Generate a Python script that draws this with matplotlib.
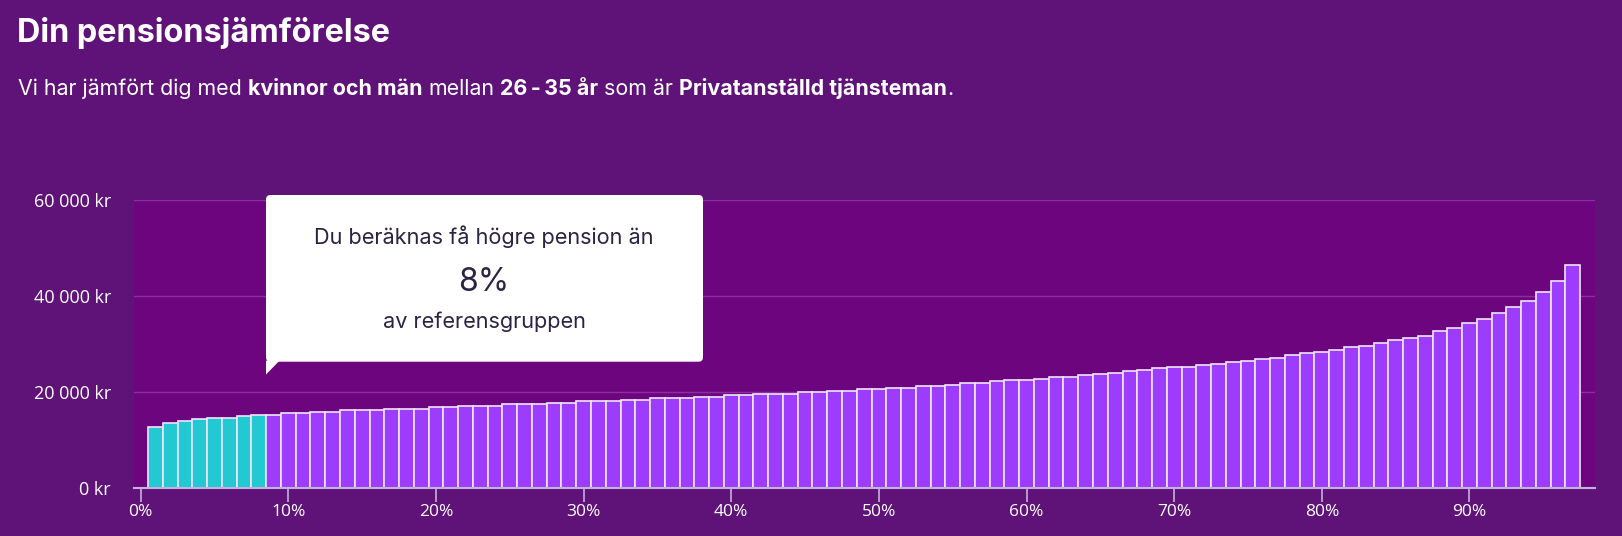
import numpy as np
import matplotlib
matplotlib.use("Agg")
import matplotlib.pyplot as plt
from matplotlib.patches import FancyBboxPatch, Polygon
from matplotlib.ticker import FuncFormatter

# Data: estimated pension (kr/month) per percentile of the reference group
percentiles = np.arange(1, 98)
pension_k = [
    12.7, 13.4, 14.0, 14.3, 14.6, 14.6, 14.9, 15.2, 15.2, 15.6,
    15.6, 15.8, 15.8, 16.2, 16.2, 16.2, 16.5, 16.5, 16.5, 16.8,
    16.8, 17.1, 17.1, 17.1, 17.4, 17.4, 17.4, 17.7, 17.7, 18.1,
    18.1, 18.1, 18.3, 18.3, 18.7, 18.7, 18.7, 19.0, 19.0, 19.3,
    19.3, 19.6, 19.6, 19.6, 19.9, 19.9, 20.2, 20.2, 20.6, 20.6,
    20.8, 20.8, 21.2, 21.2, 21.5, 21.9, 21.9, 22.2, 22.5, 22.5,
    22.7, 23.1, 23.1, 23.4, 23.75, 24.0, 24.3, 24.65, 25.0, 25.2,
    25.2, 25.55, 25.9, 26.2, 26.45, 26.9, 27.15, 27.7, 28.05, 28.3,
    28.7, 29.3, 29.6, 30.1, 30.8, 31.2, 31.7, 32.7, 33.3, 34.3,
    35.2, 36.5, 37.6, 39.0, 40.8, 43.1, 46.5,
]
pension = np.array(pension_k) * 1000
user_percentile = 8
y_ticks = [0, 20000, 40000, 60000]
x_ticks = list(range(0, 100, 10))

title = "Din pensionsjämförelse"
subtitle_runs = [
    ("Vi har jämfört dig med", "normal"), (" ", "normal"),
    ("kvinnor och män", "bold"), (" ", "normal"),
    ("mellan", "normal"), (" ", "normal"),
    ("26\u2009-\u200935 år", "bold"), (" ", "normal"),
    ("som är", "normal"), (" ", "normal"),
    ("Privatanställd tjänsteman", "bold"),
    (".", "normal"),
]
tip_lines = ["Du beräknas få högre pension än", f"{user_percentile}%", "av referensgruppen"]

# colours
outer_bg = "#5f1379"
plot_bg = "#6d067e"
grid_col = "#8a2ea3"
bar_purple = "#9d3cfd"
bar_teal = "#22c8d2"
bar_edge = "#efe6fb"
axis_col = "#c4b2da"
tip_text = "#2c2342"

W, H = 1622, 536
fig = plt.figure(figsize=(W / 100, H / 100), dpi=100, facecolor=outer_bg)

# axes in pixel positions
left, right, top, bottom = 134, 1595, 200, 487.7
ax = fig.add_axes([left / W, 1 - bottom / H, (right - left) / W, (bottom - top) / H])
ax.set_facecolor(plot_bg)

colors = [bar_teal if p <= user_percentile else bar_purple for p in percentiles]
ax.bar(percentiles, pension, width=1.0, color=colors, edgecolor=bar_edge,
       linewidth=1.2, zorder=3)

ax.set_xlim(-0.45, 98.5)
ax.set_ylim(0, 60000)
ax.set_yticks(y_ticks)
ax.yaxis.set_major_formatter(FuncFormatter(lambda v, _: f"{int(v):,}".replace(",", " ") + " kr"))
ax.set_xticks(x_ticks)
ax.set_xticklabels([f"{t}%" for t in x_ticks])
ax.grid(axis="y", color=grid_col, linewidth=1.0, zorder=0)
ax.set_axisbelow(True)

for s in ["top", "right", "left"]:
    ax.spines[s].set_visible(False)
ax.spines["bottom"].set_color(axis_col)
ax.spines["bottom"].set_linewidth(1.5)
ax.spines["bottom"].set_zorder(4)

ax.tick_params(axis="y", length=0, pad=16.5, labelcolor="white", labelsize=13)
ax.tick_params(axis="x", length=10, width=1.2, color=axis_col, pad=1.5,
               labelcolor="white", labelsize=12.5)
for lab in ax.get_yticklabels() + ax.get_xticklabels():
    lab.set_fontfamily(["Open Sans", "DejaVu Sans"])

# title and subtitle
fig.text(17 / W, 1 - 42.3 / H, title, fontsize=23.3, fontweight="bold", color="white",
         family=["Inter", "DejaVu Sans"], va="baseline")

renderer = fig.canvas.get_renderer()

def text_width(s, weight, size):
    t = fig.text(0, 0, "|" + s + "|", fontsize=size, fontweight=weight,
                 family=["Inter", "DejaVu Sans"])
    t2 = fig.text(0, 0, "||", fontsize=size, fontweight=weight,
                  family=["Inter", "DejaVu Sans"])
    w = t.get_window_extent(renderer).width - t2.get_window_extent(renderer).width
    t.remove()
    t2.remove()
    return w

x = 18.0
sub_size = 15.4
for s, weight in subtitle_runs:
    if s.strip():
        fig.text(x / W, 1 - 94.8 / H, s, fontsize=sub_size, fontweight=weight,
                 color="white", family=["Inter", "DejaVu Sans"], va="baseline")
    x += text_width(s, weight, sub_size)

# tooltip box
inch = fig.dpi_scale_trans
bx0, bx1, by0, by1 = 266, 703, 195, 361.7
box = FancyBboxPatch((bx0 / 100, (H - by1) / 100), (bx1 - bx0) / 100, (by1 - by0) / 100,
                     boxstyle="round,pad=0,rounding_size=0.045", transform=inch,
                     facecolor="white", edgecolor="none", zorder=10)
fig.patches.append(box)
tail = Polygon([(bx0 / 100, (H - by1 + 1) / 100), ((bx0 + 13.5) / 100, (H - by1 + 1) / 100),
                (bx0 / 100, (H - by1 - 12.8) / 100)], closed=True, transform=inch,
               facecolor="white", edgecolor="none", zorder=10)
fig.patches.append(tail)

cx = 484 / W
fig.text(cx, 1 - 244 / H, tip_lines[0], fontsize=15.6, color=tip_text, ha="center",
         va="baseline", family=["Inter", "DejaVu Sans"], zorder=11)
fig.text(cx, 1 - 290.7 / H, tip_lines[1], fontsize=23, color=tip_text,
         ha="center", va="baseline", family=["Inter", "DejaVu Sans"], zorder=11)
fig.text(cx, 1 - 328.3 / H, tip_lines[2], fontsize=15.6, color=tip_text, ha="center",
         va="baseline", family=["Inter", "DejaVu Sans"], zorder=11)

fig.savefig("out.png", dpi=100, facecolor=outer_bg)
